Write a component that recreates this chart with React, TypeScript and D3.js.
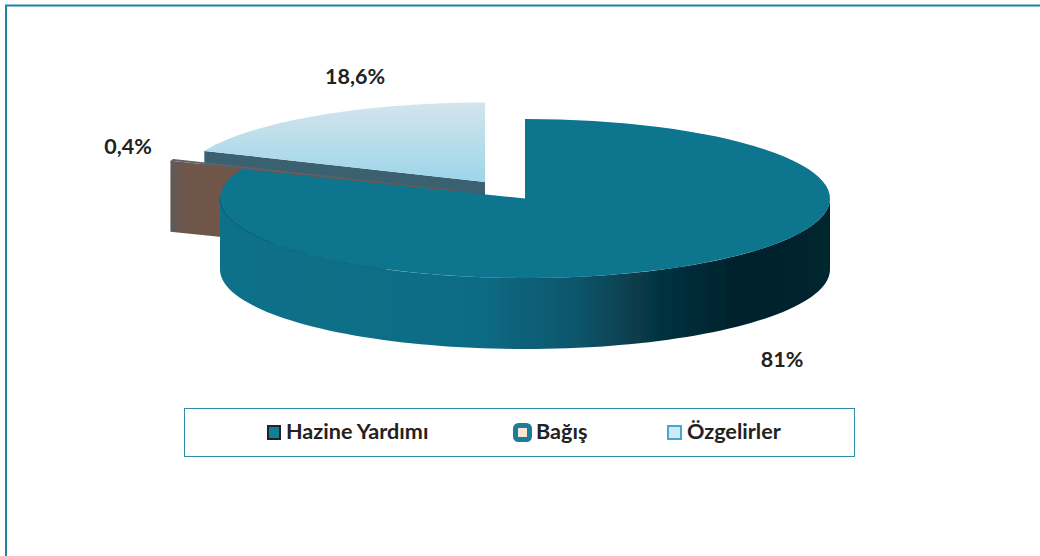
import React from "react";
import * as d3 from "d3";

const categories = ["Hazine Yardımı", "Bağış", "Özgelirler"];
const values = [81, 0.4, 18.6];
const valueLabels = ["81%", "0,4%", "18,6%"];
const sliceCenters: [number, number][] = [[525, 198.5], [454, 190], [485, 182]];
const labelPos: [number, number][] = [[782, 367], [128, 154], [355, 84]];
const legendTextX = [286, 536, 687];

const RX = 305, RY = 79.5, DEPTH = 71;
const FONT = "Lato, 'Open Sans', sans-serif";

export default function App() {
  const pie = d3.pie<number>().sort(null).value(d => d);
  const arcs = pie(values);
  const sx = d3.scaleLinear().domain([0, 1]).range([0, RX]);
  const sy = d3.scaleLinear().domain([0, 1]).range([0, RY]);
  const pt = (c: [number, number], a: number, dy = 0): [number, number] => [
    c[0] + sx(Math.sin(a)),
    c[1] - sy(Math.cos(a)) + dy,
  ];
  const ellipseArc = (c: [number, number], a0: number, a1: number, dy: number, reverse = false) => {
    const n = 90;
    return d3.range(n + 1).map(i => pt(c, a0 + (a1 - a0) * (reverse ? n - i : i) / n, dy));
  };
  const line = d3.line();
  const poly = (p: [number, number][]) => line(p) + "Z";

  const top = (i: number) => {
    const c = sliceCenters[i];
    return poly([c, ...ellipseArc(c, arcs[i].startAngle, arcs[i].endAngle, 0)]);
  };
  const cutFace = (i: number, a: number) => {
    const c = sliceCenters[i];
    return poly([c, pt(c, a), pt(c, a, DEPTH), [c[0], c[1] + DEPTH]]);
  };
  const c0 = sliceCenters[0];
  const wallStart = Math.PI / 2;
  const wallEnd = Math.PI * 1.5;
  const mainWall = poly([
    ...ellipseArc(c0, wallStart, wallEnd, 0),
    ...ellipseArc(c0, wallStart, wallEnd, DEPTH, true),
  ]);
  const frontEdge = line(ellipseArc(c0, Math.PI * 1.15, wallEnd, 0)) || "";

  return (
    <svg width={1040} height={556} style={{ position: "absolute", left: 0, top: 0, background: "#fff" }}>
      <defs>
        <linearGradient id="wall" gradientUnits="userSpaceOnUse" x1={220} x2={831} y1={0} y2={0}>
          <stop offset="0" stopColor="#0a7189" />
          <stop offset="0.42" stopColor="#0a6c85" />
          <stop offset="0.58" stopColor="#0a566c" />
          <stop offset="0.72" stopColor="#06323f" />
          <stop offset="0.84" stopColor="#04232e" />
          <stop offset="1" stopColor="#04252f" />
        </linearGradient>
        <linearGradient id="ozg" x1="0" x2="0" y1="0" y2="1">
          <stop offset="0" stopColor="#d3e5ec" />
          <stop offset="1" stopColor="#9dd5ea" />
        </linearGradient>
        <linearGradient id="brown" gradientUnits="userSpaceOnUse" x1={172} x2={225} y1={0} y2={0}>
          <stop offset="0" stopColor="#5f5a58" />
          <stop offset="0.2" stopColor="#6e564b" />
          <stop offset="1" stopColor="#70564a" />
        </linearGradient>
        <filter id="soft" x="-5%" y="-5%" width="110%" height="110%">
          <feGaussianBlur stdDeviation="0.5" />
        </filter>
      </defs>

      <path d="M1040,5.5H6V556" fill="none" stroke="#1a86a0" strokeWidth={2} />

      <g filter="url(#soft)">
        <path d={cutFace(2, arcs[2].startAngle)} fill="#3b6170" />
        <path d={cutFace(2, arcs[2].endAngle)} fill="#7f9aa3" transform="translate(3,-8)" />
        <path d={top(2)} fill="url(#ozg)" />

        <path d={cutFace(1, arcs[1].startAngle)} fill="url(#brown)" />
        <path d={top(1)} fill="#5f6468" />

        <path d={mainWall} fill="url(#wall)" />
        <path d={top(0)} fill="#08748e" />
        <path d={frontEdge} fill="none" stroke="#0a5f78" strokeWidth={1} />
      </g>

      {valueLabels.map((t, i) => (
        <text key={t} x={labelPos[i][0]} y={labelPos[i][1]} textAnchor="middle"
          fontFamily={FONT} fontWeight={700} fontSize={21.5} fill="#222">{t}</text>
      ))}

      <rect x={184.5} y={408.5} width={670} height={48} fill="#fff" stroke="#2b8ea6" strokeWidth={1} />
      <rect x={268} y={426} width={12} height={13} fill="#0f7f9b" stroke="#222" strokeWidth={2} />
      <rect x={515.5} y={425.5} width={14} height={14} rx={3} fill="#f7e6d6" stroke="#1d7c97" strokeWidth={5} />
      <rect x={668} y={426} width={13} height={13} fill="#cfeaf5" stroke="#45a9c8" strokeWidth={2} />
      {categories.map((t, i) => (
        <text key={t} x={legendTextX[i]} y={438.5} fontFamily={FONT} fontWeight={700} fontSize={21.6} fill="#222">{t}</text>
      ))}
    </svg>
  );
}
